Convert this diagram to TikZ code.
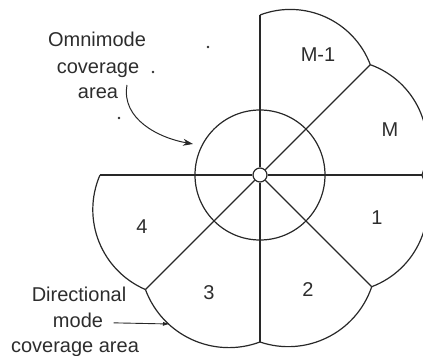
\documentclass[tikz,border=0pt]{standalone}
\usepackage{fontspec}
\setmainfont{Liberation Sans}
\usetikzlibrary{arrows.meta}
\definecolor{linecol}{RGB}{40,40,40}
\definecolor{textcol}{RGB}{45,45,45}

\begin{document}
\begin{tikzpicture}[x=1pt,y=1pt,line width=1.2pt,
  lbl/.style={text=textcol,inner sep=0pt,font=\fontsize{20}{24}\selectfont},
  speck/.style={fill=textcol,circle,inner sep=0pt,minimum size=2.6pt}]
\useasboundingbox (-260,-181) rectangle (163,175);

\node[circle,draw=linecol,minimum size=130pt,inner sep=0pt] (omni) at (0,0) {};
\node[circle,draw=linecol,fill=white,minimum size=14pt,inner sep=0pt] (hub) at (0,0) {};
\foreach \a/\r in {90/160,45/156,0/162,315/158,270/167,225/162,180/160}
  \draw[linecol] (hub.\a) -- (\a:\r);

\foreach \a/\ra/\b/\rb in {90/160/45/156, 45/156/0/162, 0/162/-45/158,
                           -45/158/-90/167, -90/167/-135/162, -135/162/-180/160}
  \draw[linecol] (\a:\ra) to[bend left=45] (\b:\rb);

\node[lbl] (sec1) at (58,120)   {M-1};
\node[lbl] (sec2) at (130,45)   {M};
\node[lbl] (sec3) at (117,-43)  {1};
\node[lbl] (sec4) at (48,-115)  {2};
\node[lbl] (sec5) at (-51,-118) {3};
\node[lbl] (sec6) at (-118,-52) {4};

\node[lbl,anchor=base] (omni1) at (-163,128)   {Omnimode};
\node[lbl,anchor=base] (omni2) at (-162,101)   {coverage};
\node[lbl,anchor=base] (omni3) at (-162,76)    {area};
\node[lbl,anchor=base] (dir1)  at (-181,-126)  {Directional};
\node[lbl,anchor=base] (dir2)  at (-182,-152)  {mode};
\node[lbl,anchor=base] (dir3)  at (-185,-177)  {coverage area};

\coordinate (omnistart) at (-133,90);
\coordinate (omnitip) at (-67,31);
\draw[linecol,line width=1pt,-{Stealth[length=10pt,width=7pt]}]
  (omnistart) to[out=-100,in=170] (omnitip);
\coordinate (dirtip) at (-90,-149);
\draw[linecol,line width=0.9pt,-{Latex[length=7pt,width=4pt]}]
  ([xshift=10pt,yshift=-3pt]dir2.east) -- (dirtip);

\node[speck] (dot1) at (-52,128) {};
\node[speck] (dot2) at (-107,103) {};
\node[speck] (dot3) at (-141,57) {};
\end{tikzpicture}
\end{document}
